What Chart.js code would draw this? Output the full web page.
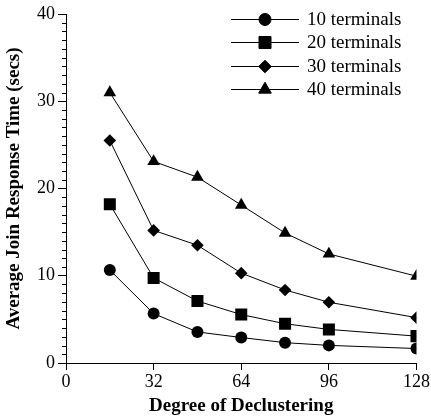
<!DOCTYPE html>
<html>
<head>
<meta charset="utf-8">
<script src="https://cdn.jsdelivr.net/npm/chart.js@4/dist/chart.umd.min.js"></script>
<style>
  html, body { margin: 0; padding: 0; background: #fff; }
  canvas { display: block; }
</style>
</head>
<body>
<canvas id="chart" width="431" height="417"></canvas>
<script>
// степень декластеризации (ось X)
const degrees = [16, 32, 48, 64, 80, 96, 128];

// среднее время отклика соединения, сек
const terminals10 = [10.66, 5.66, 3.56, 2.92, 2.33, 2.02, 1.66];
const terminals20 = [18.2, 9.75, 7.1, 5.55, 4.5, 3.85, 3.08];
const terminals30 = [25.5, 15.2, 13.5, 10.3, 8.37, 6.96, 5.2];
const terminals40 = [31.0, 23.1, 21.3, 18.1, 14.9, 12.5, 9.95];

const seriesLabels = ["10 terminals", "20 terminals", "30 terminals", "40 terminals"];
const xTicks = [0, 32, 64, 96, 128];
const yTicks = [0, 10, 20, 30, 40];

const serif = "'Liberation Serif', 'Times New Roman', serif";

const markers = [
  { pointStyle: "circle", radius: 6 },
  { pointStyle: "rect", radius: 8.5 },
  { pointStyle: "rectRot", radius: 6.3 },
  { pointStyle: "triangle", radius: 7.3 },
];

function toPoints(values) {
  return degrees.map((d, i) => ({ x: d, y: values[i] }));
}

// Запасной вариант, если helpers недоступны
function drawMarker(ctx, opts, x, y) {
  if (Chart.helpers && Chart.helpers.drawPoint) {
    Chart.helpers.drawPoint(ctx, opts, x, y);
    return;
  }
  ctx.beginPath();
  ctx.arc(x, y, opts.radius, 0, Math.PI * 2);
  ctx.fill();
}

// Легенда: линия с маркером и подпись справа
const lineLegend = {
  id: "lineLegend",
  afterDraw(chart) {
    const ctx = chart.ctx;
    ctx.save();
    chart.data.datasets.forEach((ds, i) => {
      const y = 19 + i * 23.3;
      ctx.strokeStyle = "#000";
      ctx.fillStyle = "#000";
      ctx.lineWidth = 1;
      ctx.beginPath();
      ctx.moveTo(231, Math.round(y) + 0.5);
      ctx.lineTo(299, Math.round(y) + 0.5);
      ctx.stroke();
      drawMarker(ctx, {
        pointStyle: markers[i].pointStyle,
        radius: markers[i].radius,
        rotation: 0,
        borderWidth: 1,
      }, 265, Math.round(y) + 0.5);
      ctx.font = "19px " + serif;
      ctx.textBaseline = "middle";
      ctx.textAlign = "left";
      ctx.fillText(ds.label, 307, y + 1);
    });
    ctx.restore();
  },
};

// Мелкие деления на оси Y через каждую единицу
const minorTicks = {
  id: "minorTicks",
  afterDraw(chart) {
    const ctx = chart.ctx;
    const yScale = chart.scales.y;
    const left = chart.chartArea.left;
    ctx.save();
    ctx.strokeStyle = "#000";
    ctx.lineWidth = 1;
    ctx.beginPath();
    for (let v = 1; v < 40; v++) {
      if (v % 10 === 0) continue;
      const py = Math.round(yScale.getPixelForValue(v)) + 0.5;
      ctx.moveTo(left - 4, py);
      ctx.lineTo(left, py);
    }
    ctx.stroke();
    ctx.restore();
  },
};

function buildChart() {
  const datasets = [terminals10, terminals20, terminals30, terminals40].map((values, i) => ({
    label: seriesLabels[i],
    data: toPoints(values),
    borderColor: "#000",
    backgroundColor: "#000",
    borderWidth: 1,
    pointStyle: markers[i].pointStyle,
    pointRadius: markers[i].radius,
    pointHoverRadius: markers[i].radius,
    pointBorderWidth: 0,
    pointBackgroundColor: "#000",
    tension: 0,
  }));

  const ctx = document.getElementById("chart").getContext("2d");
  new Chart(ctx, {
    type: "line",
    data: { datasets: datasets },
    options: {
      responsive: false,
      animation: false,
      events: [],
      layout: { padding: { top: 14, right: 0, left: 0, bottom: 0 } },
      plugins: {
        legend: { display: false },
        tooltip: { enabled: false },
      },
      scales: {
        x: {
          type: "linear",
          min: 0,
          max: 128,
          afterBuildTicks: (scale) => {
            scale.ticks = xTicks.map((v) => ({ value: v }));
          },
          afterFit: (scale) => {
            scale.height = 54;
          },
          ticks: {
            color: "#000",
            font: { family: serif, size: 18 },
            padding: 1,
            maxRotation: 0,
            autoSkip: false,
          },
          grid: {
            drawOnChartArea: false,
            drawTicks: true,
            tickLength: 7,
            tickColor: "#000",
            tickWidth: 1,
          },
          border: { display: true, color: "#000", width: 1 },
          title: {
            display: true,
            text: "Degree of Declustering",
            color: "#000",
            font: { family: serif, size: 19, weight: "bold" },
            padding: { top: 0, bottom: 0 },
          },
        },
        y: {
          type: "linear",
          min: 0,
          max: 40,
          afterBuildTicks: (scale) => {
            scale.ticks = yTicks.map((v) => ({ value: v }));
          },
          afterFit: (scale) => {
            scale.width = 66;
          },
          ticks: {
            color: "#000",
            font: { family: serif, size: 18 },
            padding: 3,
          },
          grid: {
            drawOnChartArea: false,
            drawTicks: true,
            tickLength: 8,
            tickColor: "#000",
            tickWidth: 1,
          },
          border: { display: true, color: "#000", width: 1 },
          title: {
            display: true,
            text: "Average Join Response Time (secs)",
            color: "#000",
            font: { family: serif, size: 19, weight: "bold" },
            padding: { top: 3, bottom: 0 },
          },
        },
      },
    },
    plugins: [lineLegend, minorTicks],
  });
}

// Шрифты подгружаем заранее, чтобы канвас не рисовал запасным шрифтом
Promise.all([
  document.fonts.load("18px 'Liberation Serif'"),
  document.fonts.load("bold 19px 'Liberation Serif'"),
]).then(buildChart, buildChart);
</script>
</body>
</html>
